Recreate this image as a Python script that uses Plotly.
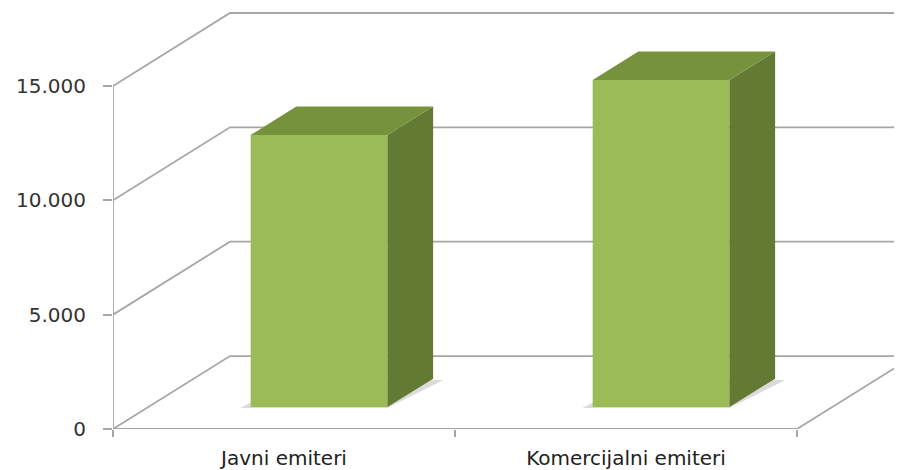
import plotly.graph_objects as go

# ---- data ----
categories = ["Javni emiteri", "Komercijalni emiteri"]
values = [11900, 14300]
y_tick_vals = [0, 5000, 10000, 15000]
y_tick_text = ["0", "5.000", "10.000", "15.000"]

# ---- pseudo-3D geometry (data units) ----
DX = 0.342      # depth offset along x (category units)
DY = 3190       # depth offset along y (value units)
F1, F2 = 0.30, 0.69   # bar front / back depth fractions
BW = 0.40       # bar width
X0, X1 = -0.5, len(categories) - 0.5
YMAX = 15000
GRID = "#A6A6A6"
FRONT, TOP, SIDE = "#9BBB59", "#76923C", "#627A33"

fig = go.Figure()

def line(xs, ys, color=GRID, width=1.8):
    fig.add_trace(go.Scatter(x=xs, y=ys, mode="lines", line=dict(color=color, width=width),
                             hoverinfo="skip", showlegend=False))

def poly(xs, ys, color, lw=0, lc=None):
    fig.add_trace(go.Scatter(x=xs + [xs[0]], y=ys + [ys[0]], mode="lines", fill="toself",
                             fillcolor=color, line=dict(color=lc or color, width=lw),
                             hoverinfo="skip", showlegend=False))

# walls: side-wall diagonals + back-wall gridlines
for v in y_tick_vals:
    line([X0, X0 + DX, X1 + DX + 1], [v, v + DY, v + DY])
# floor front edge, right floor edge, front y-axis line
line([X0, X1], [0, 0])
line([X1, X1 + DX], [0, DY])
line([X0, X0], [0, YMAX])

# bars
for i, v in enumerate(values):
    xl, xr = i - BW / 2, i + BW / 2
    fx, fy = F1 * DX, F1 * DY
    bx, by = F2 * DX, F2 * DY
    # soft shadow on floor
    poly([xl + fx - 0.03, xr + fx, xr + bx + 0.03, xl + bx],
         [fy - 40, fy - 40, by - 60, by], "rgba(110,110,110,0.25)")
    # front face
    poly([xl + fx, xr + fx, xr + fx, xl + fx], [fy, fy, fy + v, fy + v], FRONT)
    # side face
    poly([xr + fx, xr + bx, xr + bx, xr + fx], [fy, by, by + v, fy + v], SIDE)
    # top face
    poly([xl + fx, xr + fx, xr + bx, xl + bx], [fy + v, fy + v, by + v, by + v], TOP)

fig.update_layout(
    width=894, height=462,
    margin=dict(l=105, r=0, t=0, b=41),
    plot_bgcolor="white", paper_bgcolor="white",
    showlegend=False,
    xaxis=dict(
        range=[X0, X0 + 789 / 342], showgrid=False, zeroline=False, showline=False,
        tickmode="array", tickvals=list(range(len(categories))), ticktext=categories,
        ticks="", ticklabelstandoff=15,
        tickfont=dict(family="DejaVu Sans", size=20, color="#222222"),
        minor=dict(tickmode="array", tickvals=[X0 + k for k in range(len(categories) + 1)],
                   ticks="outside", ticklen=7, tickcolor=GRID, tickwidth=1.5),
        fixedrange=True,
    ),
    yaxis=dict(
        range=[0, 421 / 22.87 * 1000], showgrid=False, zeroline=False, showline=False,
        tickmode="array", tickvals=y_tick_vals, ticktext=y_tick_text,
        ticks="outside", ticklen=9, tickcolor=GRID, tickwidth=1.5,
        ticklabelstandoff=13,
        tickfont=dict(family="DejaVu Sans", size=20, color="#333333"),
        fixedrange=True,
    ),
)

fig.write_html("out.html")
